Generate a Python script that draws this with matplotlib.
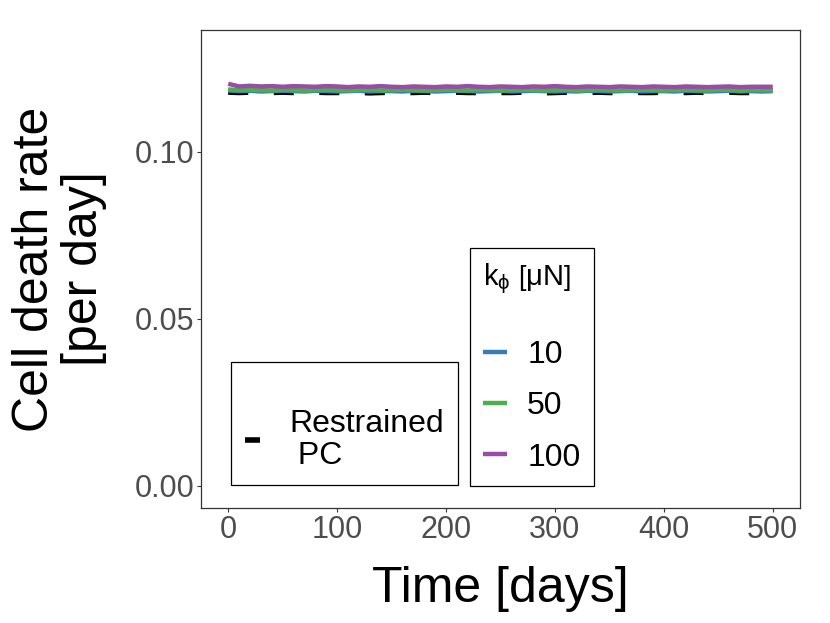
import matplotlib
matplotlib.use("Agg")
import matplotlib.pyplot as plt
from matplotlib.lines import Line2D

plt.rcParams['font.family'] = ['Liberation Sans', 'DejaVu Sans']
plt.rcParams['mathtext.fontset'] = 'custom'
plt.rcParams['mathtext.rm'] = 'Liberation Sans'
plt.rcParams['mathtext.it'] = 'Liberation Sans:italic'

# ---- data ----
time_days = list(range(0, 501, 10))
k_values = ["10", "50", "100"]
k10 = [0.1184, 0.1182, 0.1183, 0.1181, 0.1182, 0.1183, 0.1182, 0.1181, 0.1183, 0.1182,
       0.1181, 0.1182, 0.1183, 0.1181, 0.1182, 0.1182, 0.1181, 0.1183, 0.1182, 0.1181,
       0.1182, 0.1183, 0.1182, 0.1181, 0.1182, 0.1183, 0.1181, 0.1182, 0.1183, 0.1182,
       0.1181, 0.1182, 0.1181, 0.1183, 0.1182, 0.1181, 0.1182, 0.1183, 0.1181, 0.1182,
       0.1182, 0.1181, 0.1183, 0.1182, 0.1181, 0.1182, 0.1183, 0.1181, 0.1182, 0.1181,
       0.1182]
k50 = [0.1187, 0.1185, 0.1186, 0.1185, 0.1184, 0.1186, 0.1185, 0.1184, 0.1185, 0.1186,
       0.1185, 0.1184, 0.1185, 0.1186, 0.1184, 0.1185, 0.1186, 0.1185, 0.1184, 0.1185,
       0.1186, 0.1185, 0.1184, 0.1186, 0.1185, 0.1184, 0.1185, 0.1186, 0.1185, 0.1184,
       0.1185, 0.1186, 0.1184, 0.1185, 0.1186, 0.1185, 0.1184, 0.1185, 0.1186, 0.1185,
       0.1184, 0.1185, 0.1186, 0.1185, 0.1184, 0.1186, 0.1185, 0.1184, 0.1185, 0.1185,
       0.1185]
k100 = [0.1204, 0.1196, 0.1198, 0.1196, 0.1197, 0.1195, 0.1197, 0.1196, 0.1195, 0.1197,
        0.1196, 0.1194, 0.1196, 0.1195, 0.1197, 0.1195, 0.1194, 0.1196, 0.1195, 0.1194,
        0.1196, 0.1195, 0.1197, 0.1195, 0.1194, 0.1196, 0.1195, 0.1194, 0.1196, 0.1195,
        0.1197, 0.1195, 0.1194, 0.1196, 0.1195, 0.1194, 0.1196, 0.1195, 0.1194, 0.1196,
        0.1195, 0.1194, 0.1196, 0.1195, 0.1194, 0.1195, 0.1196, 0.1194, 0.1195, 0.1195,
        0.1195]
restrained_pc = [0.1179, 0.1178, 0.1179, 0.1178, 0.1178, 0.1179, 0.1178, 0.1178, 0.1179, 0.1178,
                 0.1178, 0.1179, 0.1178, 0.1177, 0.1178, 0.1179, 0.1178, 0.1178, 0.1179, 0.1178,
                 0.1178, 0.1179, 0.1178, 0.1178, 0.1179, 0.1178, 0.1178, 0.1179, 0.1178, 0.1177,
                 0.1178, 0.1179, 0.1178, 0.1178, 0.1179, 0.1178, 0.1178, 0.1179, 0.1178, 0.1178,
                 0.1179, 0.1178, 0.1178, 0.1179, 0.1178, 0.1178, 0.1179, 0.1178, 0.1178, 0.1179,
                 0.1178]
x_ticks = [0, 100, 200, 300, 400, 500]
y_ticks = [0.00, 0.05, 0.10]
y_tick_labels = ["0.00", "0.05", "0.10"]

colors = ["#377EB8", "#4DAF4A", "#984EA3"]

fig = plt.figure(figsize=(8.3, 6.23), dpi=100)
ax = fig.add_axes([201/830, 1 - 508/623, (800-201)/830, (508-30)/623])

series = [k10, k50, k100]
handles = []
for vals, c, lab in zip(series, colors, k_values):
    h, = ax.plot(time_days, vals, color=c, lw=3.2, solid_capstyle='butt')
    handles.append(h)
pc_line, = ax.plot(time_days, restrained_pc, color='black', lw=4.0,
                   dashes=(3.6, 4.6), dash_capstyle='butt', zorder=1)

ax.set_xlim(-25, 525)
ax.set_ylim(-0.0066, 0.1365)
ax.set_xticks(x_ticks)
ax.set_xticklabels([str(t) for t in x_ticks])
ax.set_yticks(y_ticks)
ax.set_yticklabels(y_tick_labels)
ax.tick_params(axis='both', colors='#333333', labelcolor='#4D4D4D',
               labelsize=22, length=3, width=0.8, pad=2)
for s in ax.spines.values():
    s.set_color('#333333')
    s.set_linewidth(0.9)

ax.set_xlabel("Time [days]", fontsize=36, labelpad=15)
ax.set_ylabel("Cell death rate\n[per day]", fontsize=36, labelpad=20, linespacing=1.08)

# legend 1 : Restrained PC
leg1_handle = Line2D([], [], color='black', lw=4.0, dashes=(3.8, 5), dash_capstyle='butt')
leg1 = fig.legend([leg1_handle], ["Restrained\n PC"], loc='lower left',
                  bbox_to_anchor=(231/830, 1 - 485/623), frameon=True,
                  fontsize=23, handlelength=0.47, handletextpad=0.9,
                  borderpad=0.45, title=" ", title_fontsize=14, borderaxespad=0)
for t in leg1.get_texts():
    t.set_linespacing(1.05)
leg1.get_frame().set_edgecolor('black')
leg1.get_frame().set_linewidth(0.9)
leg1.get_frame().set_boxstyle('square', pad=0)
leg1.get_frame().set_alpha(1)

# legend 2 : k_phi
title_str = r"$\mathregular{k_{\phi}}\ \left[\mathregular{\mu N}\right]$"
leg2 = fig.legend(handles, k_values, loc='lower left',
                  bbox_to_anchor=(470/830, 1 - 486/623), frameon=True,
                  fontsize=23, handlelength=0.75, handletextpad=0.62,
                  labelspacing=0.66, borderpad=0.42,
                  title=title_str + "\n",
                  title_fontsize=21, borderaxespad=0)
leg2._legend_box.align = "left"
leg2.get_title().set_linespacing(0.8)
leg2.get_frame().set_edgecolor('black')
leg2.get_frame().set_linewidth(0.9)
leg2.get_frame().set_boxstyle('square', pad=0)
leg2.get_frame().set_alpha(1)

fig.savefig("out.png", dpi=100)
